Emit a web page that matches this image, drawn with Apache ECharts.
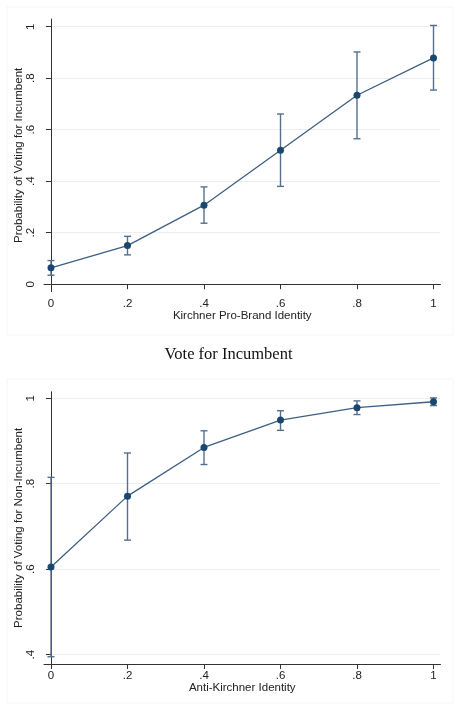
<!DOCTYPE html>
<html>
  <head>
    <meta charset="UTF-8" />
    <title>Vote for Incumbent</title>
    <script src="https://cdn.jsdelivr.net/npm/echarts@6/dist/echarts.min.js"></script>
    <style>
      body { margin: 0; background: #fff; }
    </style>
  </head>
  <body>
    <div id="chart" style="width: 457px; height: 708px"></div>
  </body>
  <script>
    // x positions shared by both panels
    const xValues = [0, 0.2, 0.4, 0.6, 0.8, 1];
    const xTicks = [0, 0.2, 0.4, 0.6, 0.8, 1];

    // top panel: Kirchner pro-brand identity
    const proEstimate = [0.064, 0.150, 0.307, 0.520, 0.734, 0.879];
    const proLower = [0.035, 0.114, 0.237, 0.380, 0.565, 0.754];
    const proUpper = [0.092, 0.186, 0.378, 0.661, 0.902, 1.005];
    const proYTicks = [0, 0.2, 0.4, 0.6, 0.8, 1];

    // bottom panel: anti-Kirchner identity
    const antiEstimate = [0.605, 0.771, 0.885, 0.949, 0.978, 0.992];
    const antiLower = [0.395, 0.668, 0.845, 0.925, 0.962, 0.983];
    const antiUpper = [0.815, 0.872, 0.924, 0.971, 0.994, 1.001];
    const antiYTicks = [0.4, 0.6, 0.8, 1];

    const navy = '#1a476f';
    const barColor = '#55708f';
    const fmt = v => {
      if (Math.abs(v - 1) < 1e-9) return '1';
      if (Math.abs(v) < 1e-9) return '0';
      return String(Math.round(v * 10) / 10).replace(/^0/, '');
    };

    let myChart = echarts.init(document.getElementById('chart'));

    function xAxisFor(gridIndex, name) {
      return {
        type: 'value', gridIndex: gridIndex,
        min: -0.0183, max: 1.0183,
        name: name, nameLocation: 'middle', nameGap: 18, nameMoveOverlap: false,
        nameTextStyle: { fontFamily: 'Liberation Sans', fontSize: 11.5, color: '#222' },
        axisLine: { show: true, lineStyle: { color: '#333', width: 1 } },
        axisTick: { show: true, length: 5, customValues: xTicks, lineStyle: { color: '#333' } },
        axisLabel: { customValues: xTicks, formatter: fmt, margin: 6,
          fontFamily: 'Liberation Sans', fontSize: 11.5, color: '#222' },
        splitLine: { show: false }
      };
    }

    function yAxisFor(gridIndex, min, max, ticks, name) {
      return {
        type: 'value', gridIndex: gridIndex,
        min: min, max: max,
        name: name, nameLocation: 'middle', nameGap: 19, nameMoveOverlap: false,
        nameTextStyle: { fontFamily: 'Liberation Sans', fontSize: 11.5, color: '#222' },
        axisLine: { show: true, lineStyle: { color: '#333', width: 1 } },
        axisTick: { show: true, length: 5, customValues: ticks, lineStyle: { color: '#333' } },
        axisLabel: { customValues: ticks, formatter: fmt, rotate: 90, margin: 7,
          fontFamily: 'Liberation Sans', fontSize: 11.5, color: '#222' },
        splitLine: { show: true, lineStyle: { color: '#eaf0f2', width: 1 } }
      };
    }

    function errorBars(idx, lower, upper) {
      return {
        type: 'custom', xAxisIndex: idx, yAxisIndex: idx, z: 2,
        data: xValues.map((x, i) => [x, lower[i], upper[i]]),
        renderItem: function (params, api) {
          const lo = api.coord([api.value(0), api.value(1)]);
          const hi = api.coord([api.value(0), api.value(2)]);
          const w = 3.5;
          const style = { stroke: barColor, lineWidth: 1.4 };
          return {
            type: 'group',
            children: [
              { type: 'line', shape: { x1: lo[0], y1: lo[1], x2: hi[0], y2: hi[1] }, style: style },
              { type: 'line', shape: { x1: lo[0] - w, y1: lo[1], x2: lo[0] + w, y2: lo[1] }, style: style },
              { type: 'line', shape: { x1: hi[0] - w, y1: hi[1], x2: hi[0] + w, y2: hi[1] }, style: style }
            ]
          };
        }
      };
    }

    function estimateLine(idx, values) {
      return {
        type: 'line', xAxisIndex: idx, yAxisIndex: idx, z: 3,
        data: xValues.map((x, i) => [x, values[i]]),
        symbol: 'circle', symbolSize: 7,
        itemStyle: { color: navy },
        lineStyle: { color: '#3d5f82', width: 1.3 },
        animation: false
      };
    }

    myChart.setOption({
      animation: false,
      graphic: [
        { type: 'rect', shape: { x: 7, y: 7, width: 446, height: 328 },
          style: { fill: 'none', stroke: '#f5f6f7', lineWidth: 1 } },
        { type: 'rect', shape: { x: 7, y: 379, width: 446, height: 324 },
          style: { fill: 'none', stroke: '#f5f6f7', lineWidth: 1 } }
      ],
      title: {
        text: 'Vote for Incumbent',
        left: 'center', top: 341,
        textStyle: { fontFamily: 'Liberation Serif', fontSize: 16.5, fontWeight: 'normal', color: '#111' }
      },
      grid: [
        { left: 44, top: 19, width: 396.5, height: 272.7, containLabel: false, outerBoundsMode: 'none' },
        { left: 44, top: 391.7, width: 396.5, height: 272.3, containLabel: false, outerBoundsMode: 'none' }
      ],
      xAxis: [
        xAxisFor(0, 'Kirchner Pro-Brand Identity'),
        xAxisFor(1, 'Anti-Kirchner Identity')
      ],
      yAxis: [
        yAxisFor(0, -0.029, 1.030, proYTicks, 'Probability of Voting for Incumbent'),
        yAxisFor(1, 0.378, 1.0155, antiYTicks, 'Probability of Voting for Non-Incumbent')
      ],
      series: [
        errorBars(0, proLower, proUpper),
        estimateLine(0, proEstimate),
        errorBars(1, antiLower, antiUpper),
        estimateLine(1, antiEstimate)
      ]
    });
  </script>
</html>
